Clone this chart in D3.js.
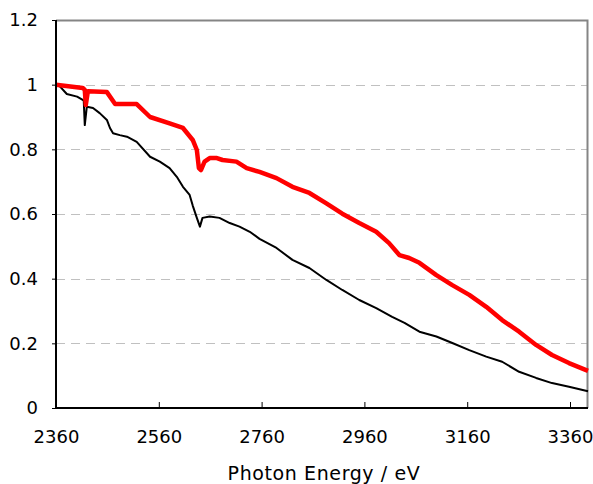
<!DOCTYPE html>
<html>
<head>
<meta charset="utf-8">
<script src="https://cdn.jsdelivr.net/npm/d3@7"></script>
<style>
  body { margin: 0; background: #fff; }
  svg { display: block; }
  .tick text { font-family: "DejaVu Sans", sans-serif; font-size: 18px; fill: #000; }
  .title { font-family: "DejaVu Sans", sans-serif; font-size: 19px; fill: #000; }
</style>
</head>
<body>
<div id="chart"></div>
<script>
// photon energy (eV) and values
var redEnergy = [2360, 2412, 2416, 2418, 2422, 2459, 2475, 2517, 2543, 2581, 2607, 2626, 2634, 2638, 2642,
	2649, 2659, 2673, 2684, 2711, 2731, 2756, 2789, 2820, 2853, 2886, 2917, 2950, 2983, 3008, 3028, 3047,
	3067, 3100, 3131, 3164, 3197, 3228, 3261, 3294, 3325, 3358, 3395];
var redValue = [1.00, 0.99, 0.984, 0.937, 0.98, 0.977, 0.94, 0.94, 0.90, 0.88, 0.866, 0.829, 0.798, 0.742, 0.736,
	0.762, 0.773, 0.773, 0.767, 0.762, 0.742, 0.73, 0.711, 0.684, 0.665, 0.633, 0.601, 0.572, 0.545, 0.51, 0.473, 0.464,
	0.449, 0.411, 0.38, 0.35, 0.313, 0.272, 0.236, 0.195, 0.164, 0.139, 0.115];

var blackEnergy = [2360, 2368, 2381, 2401, 2412, 2414, 2416, 2420, 2432, 2445, 2459, 2465, 2471, 2484, 2498, 2517,
	2543, 2562, 2581, 2595, 2607, 2620, 2626, 2634, 2640, 2645, 2659, 2678, 2698, 2717, 2737, 2756, 2789, 2820,
	2853, 2886, 2917, 2950, 2983, 3014, 3038, 3067, 3100, 3131, 3164, 3197, 3228, 3261, 3294, 3325, 3358, 3395];
var blackValue = [1.00, 0.994, 0.971, 0.963, 0.953, 0.95, 0.875, 0.932, 0.928, 0.912, 0.891, 0.866, 0.85, 0.844, 0.839, 0.823,
	0.777, 0.762, 0.742, 0.715, 0.684, 0.659, 0.626, 0.588, 0.561, 0.588, 0.592, 0.588, 0.572, 0.561, 0.545, 0.523, 0.495, 0.458,
	0.433, 0.396, 0.365, 0.334, 0.309, 0.282, 0.263, 0.236, 0.221, 0.201, 0.179, 0.159, 0.143, 0.112, 0.093, 0.077, 0.066, 0.052];

var xTicks = [2360, 2560, 2760, 2960, 3160, 3360];
var yTicks = [0, 0.2, 0.4, 0.6, 0.8, 1, 1.2];

var margin = {top: 20, right: 4, bottom: 76, left: 56},
	width = 593 - margin.left - margin.right,
	height = 484 - margin.top - margin.bottom;

var svg = d3.select("#chart").append("svg")
	.attr("width", 593)
	.attr("height", 484);

var g = svg.append("g")
	.attr("transform", "translate(" + margin.left + "," + margin.top + ")");

var x = d3.scaleLinear().domain([2360, 3395]).range([0, width - 1]);
var y = d3.scaleLinear().domain([0, 1.2]).range([height, 0]);

// dashed gridlines
g.selectAll("line.grid")
	.data(yTicks.filter(function(d) { return d > 0 && d < 1.2; }))
	.enter()
	.append("line")
	.attr("class", "grid")
	.attr("x1", 0)
	.attr("x2", width - 1)
	.attr("y1", function(d) { return Math.round(y(d)) + 0.5; })
	.attr("y2", function(d) { return Math.round(y(d)) + 0.5; })
	.attr("stroke", "#c0c0c0")
	.attr("stroke-width", 1)
	.attr("stroke-dasharray", "9,6");

// top and right border of plot area
g.append("path")
	.attr("d", "M0,0.5H" + (width - 1.5) + "V" + height)
	.attr("fill", "none")
	.attr("stroke", "#858585")
	.attr("stroke-width", 2);

var line = d3.line()
	.x(function(d) { return x(d[0]); })
	.y(function(d) { return y(d[1]); });

var blackData = blackEnergy.map(function(e, i) { return [e, blackValue[i]]; });
var redData = redEnergy.map(function(e, i) { return [e, redValue[i]]; });

g.append("path")
	.datum(blackData)
	.attr("fill", "none")
	.attr("stroke", "#000")
	.attr("stroke-width", 2)
	.attr("stroke-linejoin", "round")
	.attr("d", line);

g.append("path")
	.datum(redData)
	.attr("fill", "none")
	.attr("stroke", "#ff0000")
	.attr("stroke-width", 4.5)
	.attr("stroke-linejoin", "round")
	.attr("d", line);

// y axis
var yAxis = d3.axisLeft(y)
	.tickValues(yTicks)
	.tickSize(4)
	.tickPadding(14)
	.tickFormat(function(d) { return String(d); });

var yG = g.append("g").attr("class", "y axis").call(yAxis);
yG.select(".domain").attr("stroke", "#000").attr("stroke-width", 2).attr("d", "M0,0V" + height);
yG.selectAll(".tick line").attr("stroke", "#000");

// x axis, ticks point inward
var xAxis = d3.axisBottom(x)
	.tickValues(xTicks)
	.tickSize(-6)
	.tickPadding(22)
	.tickFormat(d3.format("d"));

var xG = g.append("g")
	.attr("class", "x axis")
	.attr("transform", "translate(0," + height + ")")
	.call(xAxis);
xG.select(".domain").attr("stroke", "#000").attr("stroke-width", 2).attr("d", "M0,0H" + (width - 1));
xG.selectAll(".tick line").attr("stroke", "#000");

// axis title
svg.append("text")
	.attr("class", "title")
	.attr("x", 324)
	.attr("y", 480)
	.attr("text-anchor", "middle")
	.style("letter-spacing", "0.6px")
	.text("Photon Energy / eV");
</script>
</body>
</html>
